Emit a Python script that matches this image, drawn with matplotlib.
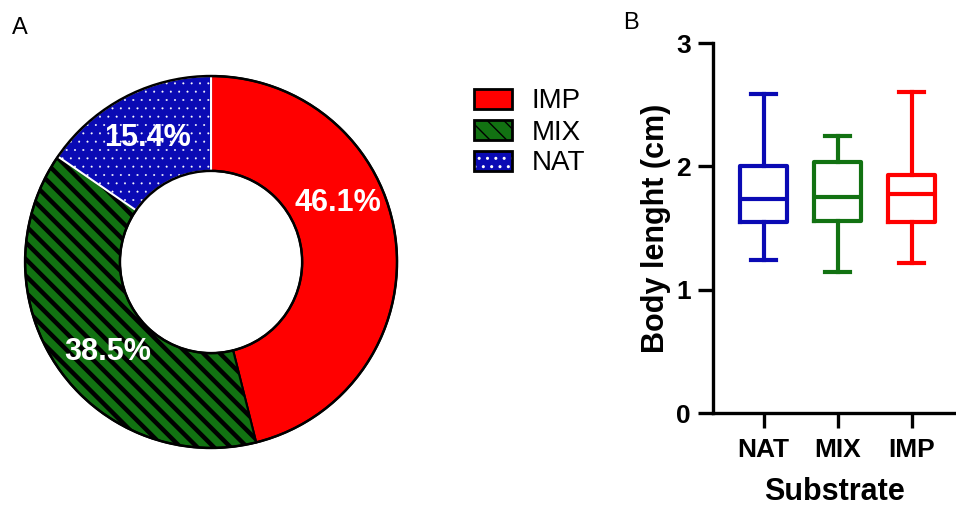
import numpy as np
import matplotlib
matplotlib.use("Agg")
import matplotlib.pyplot as plt
from matplotlib.patches import Patch, Circle
from matplotlib.legend_handler import HandlerTuple

plt.rcParams['font.family'] = ['Liberation Sans', 'DejaVu Sans']

# ── Data ─────────────────────────────────────────────────────────
pie_labels = ["IMP", "MIX", "NAT"]
pie_shares = [46.1, 38.5, 15.4]
pie_colors = ["#ff0000", "#127212", "#0a0ab4"]
pie_hatch = [None, "\\\\", ".."]

substrates = ["NAT", "MIX", "IMP"]
box_colors = ["#0a0ab4", "#127212", "#ff0000"]
whisk_lo = [1.24, 1.14, 1.22]
q1 = [1.55, 1.56, 1.55]
median = [1.74, 1.75, 1.78]
q3 = [2.00, 2.04, 1.93]
whisk_hi = [2.59, 2.25, 2.60]

fig = plt.figure(figsize=(9.56, 5.08), dpi=100)

# ── Panel A: donut ───────────────────────────────────────────────
ax1 = fig.add_axes([0.0, 0.0, 0.44, 1.0])
R_OUT, R_IN = 1.0, 0.49
wedges, _ = ax1.pie(pie_shares, colors=pie_colors, startangle=90,
                    counterclock=False, radius=R_OUT,
                    wedgeprops=dict(width=R_OUT - R_IN, edgecolor="black",
                                    linewidth=1.5))
for w, h in zip(wedges, pie_hatch):
    if h:
        w.set_hatch(h)
wedges[1].set_hatch_linewidth(3.2)
wedges[2].set_edgecolor("white")
wedges[2].set_hatch_linewidth(0.2)
for r in (R_OUT, R_IN):
    ax1.add_patch(Circle((0, 0), r, fill=False, edgecolor="black", linewidth=1.8, zorder=5))

# label positions (fraction of outer radius, angle in degrees)
lab_pos = [(0.75, 25), (0.74, 221), (0.75, 117)]
for (rr, ang), v in zip(lab_pos, pie_shares):
    a = np.deg2rad(ang)
    ax1.text(rr * np.cos(a), rr * np.sin(a), f"{v}%", color="white",
             fontsize=22, fontweight="bold", ha="center", va="center", zorder=6)
ax1.set_xlim(-1.135, 1.0 + (956 * 0.44 - 397) / 186)
ax1.set_ylim(-(508 - 262) / 186, 262 / 186)
ax1.set_aspect("equal")
ax1.axis("off")

# legend: hatch patch underneath, black outline on top
handles = []
for c, h in zip(pie_colors, pie_hatch):
    fill = Patch(facecolor=c, edgecolor="black" if h != ".." else "white",
                 linewidth=0, hatch=h)
    if h == "\\\\":
        fill.set_hatch_linewidth(2.5)
    elif h == "..":
        fill.set_hatch_linewidth(0.2)
    outline = Patch(facecolor="none", edgecolor="black", linewidth=2)
    handles.append((fill, outline))
leg = fig.legend(handles=handles, labels=pie_labels, loc="upper left",
                 bbox_to_anchor=(0.470, 0.875), frameon=False, fontsize=20,
                 handlelength=1.35, handleheight=0.7, labelspacing=0.18,
                 handletextpad=0.7, handler_map={tuple: HandlerTuple(ndivide=1, pad=0)})

fig.text(0.012, 0.945, "A", fontsize=17, ha="left", va="center")
fig.text(0.652, 0.955, "B", fontsize=17, ha="left", va="center")

# ── Panel B: box plot ────────────────────────────────────────────
ax2 = fig.add_axes([0.746, 0.187, 0.254, 0.728])
stats = []
for i, s in enumerate(substrates):
    stats.append(dict(label=s, whislo=whisk_lo[i], q1=q1[i], med=median[i],
                      q3=q3[i], whishi=whisk_hi[i], fliers=[]))
pos = np.arange(1, len(substrates) + 1)
bp = ax2.bxp(stats, positions=pos, widths=0.64, showfliers=False,
             patch_artist=False, capwidths=0.34)
LW = 3.0
for i, c in enumerate(box_colors):
    bp["boxes"][i].set(color=c, linewidth=LW)
    bp["medians"][i].set(color=c, linewidth=LW)
    for k in (2 * i, 2 * i + 1):
        bp["whiskers"][k].set(color=c, linewidth=LW)
        bp["caps"][k].set(color=c, linewidth=LW)

ax2.set_xlim(0.32, 3.6)
ax2.set_ylim(0, 3)
ax2.set_yticks([0, 1, 2, 3])
ax2.set_xticks(pos)
ax2.set_xticklabels(substrates)
for sp in ("top", "right"):
    ax2.spines[sp].set_visible(False)
for sp in ("left", "bottom"):
    ax2.spines[sp].set_linewidth(2.4)
ax2.tick_params(axis="both", width=2.4, length=11, labelsize=19, direction="out")
ax2.tick_params(axis="x", pad=7)
ax2.tick_params(axis="y", pad=5)
for t in ax2.get_xticklabels() + ax2.get_yticklabels():
    t.set_fontweight("bold")
ax2.set_ylabel("Body lenght (cm)", fontsize=22, fontweight="bold", labelpad=4)
ax2.set_xlabel("Substrate", fontsize=22, fontweight="bold", labelpad=11)

fig.savefig("out.png", dpi=100)
